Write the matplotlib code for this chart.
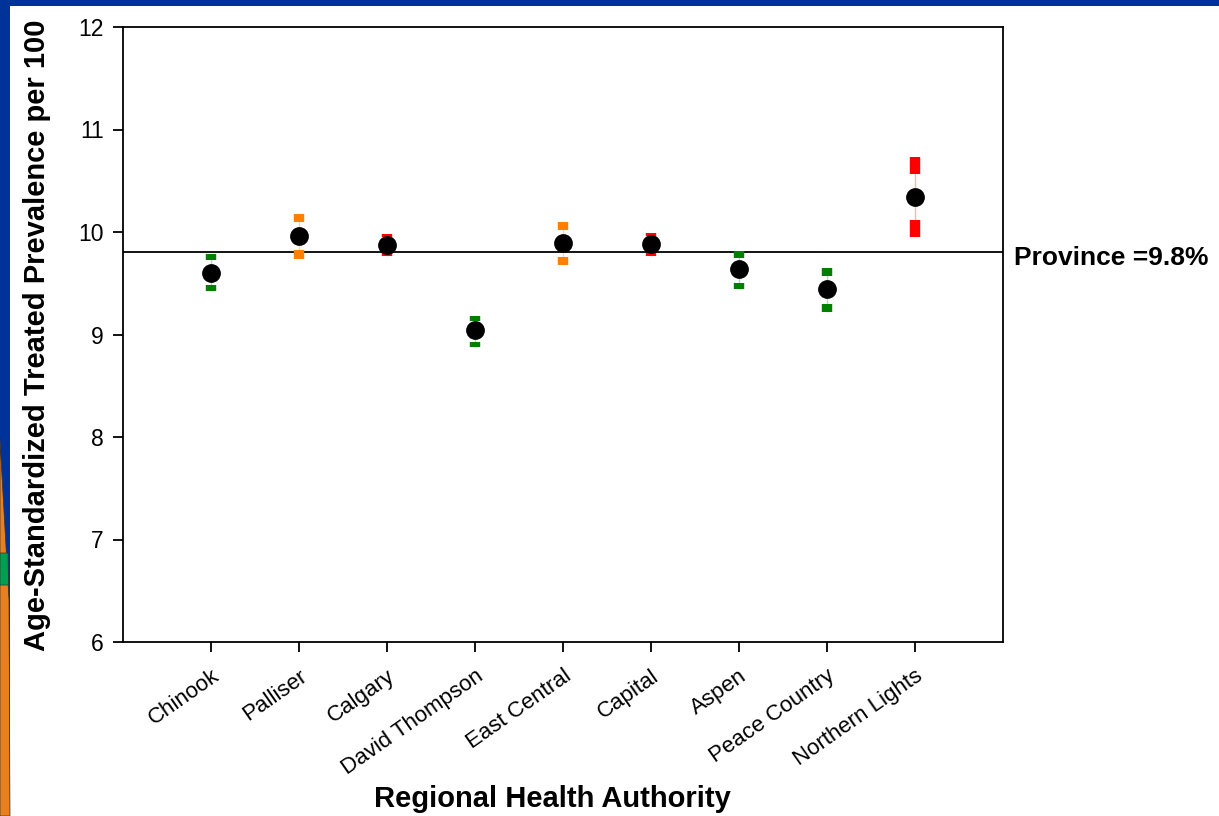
import numpy as np
import matplotlib
matplotlib.use("Agg")
import matplotlib.pyplot as plt
from matplotlib.patches import Rectangle, Polygon
from matplotlib.transforms import blended_transform_factory, offset_copy

plt.rcParams['font.family'] = ['Liberation Sans', 'DejaVu Sans']

# values
regions = ["Chinook", "Palliser", "Calgary", "David Thompson", "East Central",
           "Capital", "Aspen", "Peace Country", "Northern Lights"]
rate = [9.60, 9.96, 9.87, 9.04, 9.89, 9.88, 9.64, 9.44, 10.34]
ci_low = [9.42, 9.74, 9.77, 8.88, 9.68, 9.77, 9.44, 9.22, 9.95]
ci_high = [9.79, 10.18, 9.98, 9.18, 10.10, 9.99, 9.81, 9.65, 10.73]
# significance vs province: lower / not different / higher
sig_group = ["lower", "same", "higher", "lower", "same", "higher", "lower", "lower", "higher"]
province = 9.8

GROUP_COLORS = {"lower": "#008000", "same": "#FF8000", "higher": "#FF0000"}

W, H = 1219, 816
fig = plt.figure(figsize=(W / 100, H / 100), dpi=100)

# slide decoration: blue top bar and left strip with orange/green shapes
blue = "#003399"
fig.patches.append(Rectangle((0, 1 - 6 / H), 1, 6 / H, transform=fig.transFigure,
                             facecolor=blue, edgecolor="none", zorder=0))
fig.patches.append(Rectangle((0, 0), 10 / W, 1, transform=fig.transFigure,
                             facecolor=blue, edgecolor="none", zorder=0))
fig.patches.append(Polygon([(0, 1 - 440 / H), (9 / W, 1 - 600 / H), (10 / W, 0), (0, 0)],
                           closed=True, transform=fig.transFigure,
                           facecolor="#E8801E", edgecolor="#333333", linewidth=0.5, zorder=0))
fig.patches.append(Polygon([(0, 1 - 553 / H), (8 / W, 1 - 553 / H), (8.5 / W, 1 - 585 / H), (0, 1 - 585 / H)],
                           closed=True, transform=fig.transFigure,
                           facecolor="#00A050", edgecolor="#333333", linewidth=0.5, zorder=0))

ax = fig.add_axes([123 / W, 1 - 642 / H, 880 / W, 615 / H])
x = np.arange(1, len(regions) + 1)

ax.axhline(province, color="black", linewidth=1.3, zorder=1)

px_per_unit = 615 / 6.0
for xi, lo, hi, g in zip(x, ci_low, ci_high, sig_group):
    c = GROUP_COLORS[g]
    span = hi - lo
    cap = max(0.24 * span - 2.5 / px_per_unit, 2.5 / px_per_unit)
    ax.vlines(xi, lo, hi, color=c, linewidth=1, alpha=0.3, zorder=2)
    ax.vlines([xi, xi], [hi - cap, lo], [hi, lo + cap], color=c, linewidth=7.5,
              capstyle="butt", zorder=3)

ax.plot(x, rate, "o", color="black", markersize=12.5, zorder=4)

ax.set_xlim(0, 10)
ax.set_ylim(6, 12)
ax.set_yticks(np.arange(6, 13, 1))
ax.set_xticks(x)
ax.set_xticklabels(regions, rotation=35, ha="right", va="top", rotation_mode="anchor",
                   fontsize=16)
ax.tick_params(axis="y", direction="out", length=7, width=1.3, labelsize=16.5, pad=7)
ax.tick_params(axis="x", direction="out", length=7, width=1.3, pad=10)
for sp in ax.spines.values():
    sp.set_linewidth(1.3)

trans = offset_copy(blended_transform_factory(ax.transAxes, ax.transData), fig=fig, x=0, y=-6, units="dots")
ax.text(1.013, province, "Province =9.8%", transform=trans, fontsize=19, fontweight="bold",
        ha="left", va="center", clip_on=False)

fig.text(37 / W, 1 - 335 / H, "Age-Standardized Treated Prevalence per 100", rotation=90,
         ha="center", va="center", fontsize=21, fontweight="bold")
fig.text(552 / W, 1 - 799 / H, "Regional Health Authority", ha="center", va="center",
         fontsize=21, fontweight="bold")

fig.savefig("out.png", dpi=100)
